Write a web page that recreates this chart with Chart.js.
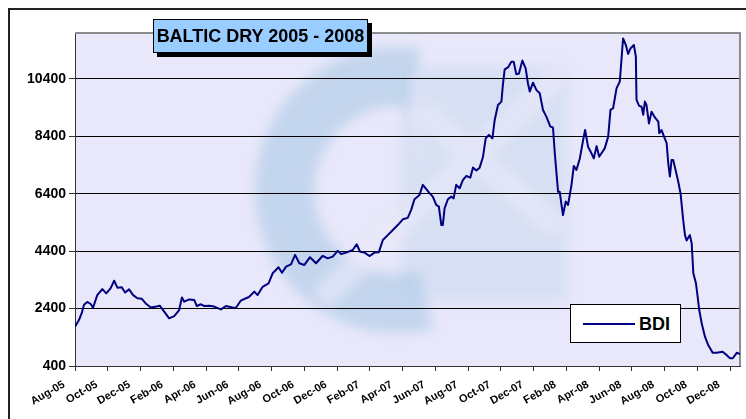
<!DOCTYPE html>
<html>
<head>
<meta charset="utf-8">
<script src="https://cdn.jsdelivr.net/npm/chart.js@4.4.0/dist/chart.umd.min.js"></script>
<style>
  html, body { margin: 0; padding: 0; background: #fff; }
  #wrap { position: relative; width: 746px; height: 419px; overflow: hidden; font-family: "Liberation Sans", Arial, sans-serif; }
  #frame { position: absolute; left: 8px; top: 8px; width: 780px; height: 460px; border: 2px solid #222; box-sizing: border-box; }
  #chart { position: absolute; left: 0; top: 0; }
  #title { position: absolute; left: 153px; top: 19px; width: 213px; height: 32px; box-sizing: content-box;
           background: #99ccff; border: 1px solid #000; box-shadow: 4px 4px 0 #000;
           font-weight: bold; font-size: 18px; line-height: 33px; text-align: center; white-space: nowrap; }
  #legend { position: absolute; left: 570px; top: 304px; width: 109px; height: 37px; background: #fff; border: 1px solid #000; }
  #legend .swatch { position: absolute; left: 12px; top: 18px; width: 52px; height: 2px; background: #000080; }
  #legend .txt { position: absolute; left: 68px; top: 0; line-height: 38px; font-weight: bold; font-size: 18px; }
</style>
</head>
<body>
<div id="wrap">
  <div id="frame"></div>
  <canvas id="chart" width="746" height="419"></canvas>
  <div id="title">BALTIC DRY 2005 - 2008</div>
  <div id="legend"><div class="swatch"></div><div class="txt"></div></div>
</div>
<script>
/* globals Chart */

// x tick labels, every two months from Aug-05
var monthLabels = ['Aug-05','Oct-05','Dec-05','Feb-06','Apr-06','Jun-06','Aug-06','Oct-06','Dec-06','Feb-07',
  'Apr-07','Jun-07','Aug-07','Oct-07','Dec-07','Feb-08','Apr-08','Jun-08','Aug-08','Oct-08','Dec-08']
var monthTicks = [0,2,4,6,8,10,12,14,16,18,20,22,24,26,28,30,32,34,36,38,40]
var yTicks = [400,2400,4400,6400,8400,10400]
var seriesName = 'BDI'

// months since Aug-05
var months = [
  0, 0.24, 0.41, 0.55, 0.75, 0.96, 1.10, 1.36, 1.67, 1.91,
  2.18, 2.39, 2.59, 2.86, 3.06, 3.30, 3.55, 3.81, 4.08, 4.32,
  4.63, 4.97, 5.18, 5.38, 5.75, 6.06, 6.36, 6.53, 6.67, 6.97,
  7.28, 7.44, 7.69, 7.89, 8.20, 8.50, 8.91, 9.22, 9.62, 9.83,
  10.13, 10.44, 10.64, 10.95, 11.15, 11.46, 11.82, 12.07, 12.43, 12.64,
  12.89, 13.19, 13.44, 13.70, 14.01, 14.35, 14.72, 15.13, 15.43, 15.74,
  16.04, 16.25, 16.56, 16.96, 17.20, 17.41, 17.68, 17.98, 18.29, 18.55,
  18.80, 19.10, 19.41, 19.71, 20.02, 20.32, 20.53, 20.73, 21.04, 21.24,
  21.45, 21.65, 21.85, 22.06, 22.22, 22.37, 22.46, 22.57, 22.77, 22.98,
  23.12, 23.28, 23.49, 23.69, 23.90, 24.14, 24.30, 24.51, 24.71, 24.91,
  25.08, 25.28, 25.49, 25.63, 25.83, 26.04, 26.13, 26.24, 26.44, 26.65,
  26.79, 26.95, 27.11, 27.32, 27.52, 27.66, 27.77, 27.97, 28.18, 28.38,
  28.58, 28.79, 29.03, 29.19, 29.30, 29.50, 29.60, 29.71, 29.80, 29.97,
  30.11, 30.32, 30.46, 30.62, 30.83, 31.03, 31.15, 31.33, 31.54, 31.68,
  31.85, 32.01, 32.15, 32.35, 32.56, 32.70, 32.86, 33.07, 33.27, 33.47,
  33.64, 33.78, 33.93, 34.13, 34.25, 34.29, 34.45, 34.60, 34.70, 34.80,
  34.90, 35.05, 35.21, 35.41, 35.62, 35.68, 35.82, 35.96, 36.13, 36.23,
  36.33, 36.43, 36.53, 36.70, 36.84, 36.98, 37.14, 37.25, 37.35, 37.55,
  37.66, 37.76, 37.92, 38.00, 38.12, 38.27, 38.47, 38.67, 38.94, 39.18,
  39.55, 39.79, 40.00, 40.17, 40.41, 40.61
]

var bdi = [
  1770, 2000, 2240, 2530, 2630, 2560, 2430, 2870, 3080, 2930,
  3110, 3370, 3130, 3140, 2960, 3070, 2870, 2760, 2740, 2580,
  2440, 2470, 2500, 2350, 2060, 2140, 2350, 2790, 2640, 2720,
  2700, 2490, 2550, 2490, 2500, 2470, 2370, 2490, 2440, 2430,
  2680, 2760, 2810, 2990, 2870, 3160, 3280, 3630, 3840, 3650,
  3860, 3940, 4270, 3980, 3920, 4190, 3980, 4240, 4150, 4210,
  4410, 4300, 4350, 4440, 4640, 4380, 4350, 4230, 4350, 4360,
  4790, 4960, 5140, 5310, 5510, 5560, 5840, 6210, 6360, 6710,
  6560, 6420, 6300, 6010, 5950, 5310, 5310, 5890, 6210, 6300,
  6240, 6710, 6590, 6880, 7020, 6960, 7310, 7210, 7310, 7670,
  8330, 8450, 8330, 8970, 9490, 9610, 10190, 10730, 10800, 11000,
  11000, 10560, 10590, 11040, 10770, 10250, 9960, 10270, 10010, 9900,
  9320, 9080, 8740, 8710, 7810, 6470, 6470, 6010, 5660, 6130,
  6010, 6710, 7370, 7230, 7630, 8270, 8620, 8040, 7810, 7630,
  8060, 7690, 7810, 7980, 8390, 9320, 9380, 10070, 10310, 11810,
  11580, 11270, 11470, 11580, 11180, 9670, 9460, 9430, 9150, 9610,
  9490, 8850, 9260, 9060, 8910, 8510, 8620, 8410, 8160, 7460,
  7000, 7580, 7580, 7170, 6820, 6410, 5490, 4960, 4770, 4960,
  4670, 3630, 3280, 2930, 2350, 1890, 1420, 1130, 860, 860,
  900, 780, 670, 670, 860, 820
]

document.querySelector('#legend .txt').textContent = seriesName

// plot background + faded logo behind the grid
var plotBackground = {
  id: 'plotBackground',
  beforeDraw: function(chart) {
    var ctx = chart.ctx, a = chart.chartArea
    ctx.save()
    ctx.fillStyle = '#e8e8fa'
    ctx.fillRect(a.left, a.top, a.right - a.left, a.bottom - a.top)
    ctx.beginPath()
    ctx.rect(a.left, a.top, a.right - a.left, a.bottom - a.top)
    ctx.clip()

    ctx.filter = 'blur(6px)'
    // C ring
    var cx = 398, cy = 190
    ctx.fillStyle = 'rgba(160,196,225,0.5)'
    ctx.beginPath()
    ctx.arc(cx, cy, 143, Math.PI * 0.42, Math.PI * 1.55)
    ctx.arc(cx, cy, 84, Math.PI * 1.55, Math.PI * 0.42, true)
    ctx.closePath()
    ctx.fill()
    // block on the right
    ctx.fillStyle = 'rgba(175,205,230,0.3)'
    ctx.fillRect(402, 68, 165, 232)
    // lighter cross bands
    ctx.strokeStyle = 'rgba(232,232,250,0.7)'
    ctx.lineWidth = 24
    ctx.beginPath()
    ctx.moveTo(565, 70); ctx.lineTo(320, 300)
    ctx.moveTo(420, 110); ctx.lineTo(560, 230)
    ctx.stroke()
    ctx.fillStyle = 'rgba(232,232,250,0.6)'
    ctx.fillRect(412, 75, 10, 80)
    ctx.restore()
  },
  beforeDatasetsDraw: function(chart) {
    var ctx = chart.ctx, a = chart.chartArea
    ctx.save()
    ctx.strokeStyle = '#8c8c8c'
    ctx.lineWidth = 2
    ctx.beginPath()
    ctx.moveTo(a.left, a.top)
    ctx.lineTo(a.right, a.top)
    ctx.lineTo(a.right, a.bottom)
    ctx.stroke()
    ctx.restore()
  }
}

var points = months.map(function(m, i) { return { x: m, y: bdi[i] } })

var config = {
  type: 'line',
  data: {
    datasets: [{
      label: seriesName,
      data: points,
      borderColor: '#000080',
      borderWidth: 2,
      pointRadius: 0,
      tension: 0,
      borderJoinStyle: 'round'
    }]
  },
  options: {
    responsive: false,
    animation: false,
    layout: { padding: { left: 0, right: 6, top: 33, bottom: 0 } },
    plugins: { legend: { display: false }, tooltip: { enabled: false } },
    scales: {
      x: {
        type: 'linear',
        min: 0,
        max: 40.61,
        afterBuildTicks: function(scale) { scale.ticks = monthTicks.map(function(v) { return { value: v } }) },
        afterFit: function(scale) { scale.height = 53 },
        ticks: {
          autoSkip: false,
          maxRotation: 30,
          minRotation: 30,
          padding: 7,
          labelOffset: -11,
          color: '#000',
          font: { family: '"Liberation Sans", Arial, sans-serif', size: 11, weight: 'bold' },
          callback: function(v, i) { return monthLabels[i] }
        },
        grid: { drawOnChartArea: false, tickLength: 5, tickColor: '#333' },
        border: { color: '#333', width: 1 }
      },
      y: {
        type: 'linear',
        min: 400,
        max: 12000,
        afterBuildTicks: function(scale) { scale.ticks = yTicks.map(function(v) { return { value: v } }) },
        afterFit: function(scale) { scale.width = 75 },
        ticks: {
          padding: 3,
          color: '#000',
          font: { family: '"Liberation Sans", Arial, sans-serif', size: 14, weight: 'bold' },
          callback: function(v) { return String(v) }
        },
        grid: { color: '#000', lineWidth: 1, tickLength: 6, tickColor: '#333' },
        border: { color: '#333', width: 1 }
      }
    }
  },
  plugins: [plotBackground]
}

var chart = new Chart(document.getElementById('chart'), config)
</script>
</body>
</html>
